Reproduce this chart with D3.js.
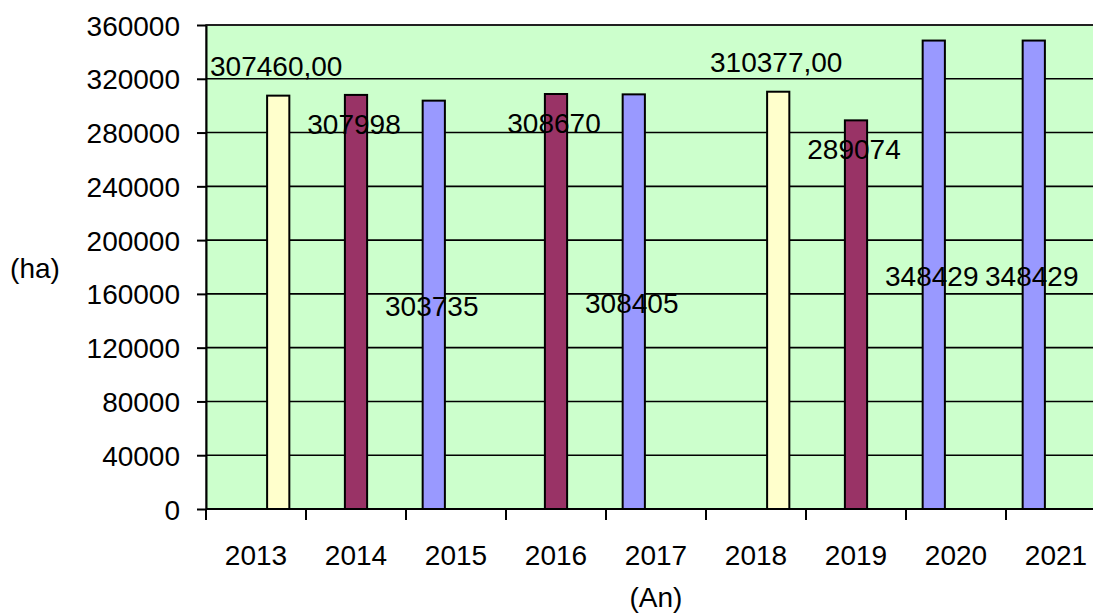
<!DOCTYPE html>
<html>
<head>
<meta charset="utf-8">
<script src="https://cdn.jsdelivr.net/npm/d3@7"></script>
<style>
  html, body { margin: 0; padding: 0; background: #ffffff; }
  svg { display: block; font-family: "Liberation Sans", Arial, sans-serif; }
</style>
</head>
<body>
<div id="chart"></div>
<script>
// categories
const years = ["2013", "2014", "2015", "2016", "2017", "2018", "2019", "2020", "2021"];

// series values (null = no bar in that year)
const blueValues   = [null, null, 303735, null, 308405, null, null, 348429, 348429];
const maroonValues = [null, 307998, null, 308670, null, null, 289074, null, null];
const yellowValues = [307460, null, null, null, null, 310377, null, null, null];

const yTicks = [0, 40000, 80000, 120000, 160000, 200000, 240000, 280000, 320000, 360000];

const width = 1093, height = 614;
const margin = {top: 25, left: 206, bottom: 105};
const plotW = 900;   // plot runs past the right edge of the picture
const plotH = height - margin.top - margin.bottom;

// series: colour + where Excel put the label
const series = [
  {key: "blue",   values: blueValues,   color: "#9999FF", label: "center", fmt: d => String(d)},
  {key: "maroon", values: maroonValues, color: "#993366", label: "insideEnd", fmt: d => String(d)},
  {key: "yellow", values: yellowValues, color: "#FFFFCC", label: "outsideEnd", fmt: d => d + ",00"}
];

const svg = d3.select("#chart").append("svg")
  .attr("width", width)
  .attr("height", height)
  .attr("viewBox", [0, 0, width, height]);

const x = d3.scaleBand()
  .domain(years)
  .range([margin.left, margin.left + plotW]);

// gap width 150% -> outer padding 0.75 of a bar on each side
const xs = d3.scaleBand()
  .domain(series.map(s => s.key))
  .range([0, x.bandwidth()])
  .paddingInner(0)
  .paddingOuter(0.75);

const y = d3.scaleLinear()
  .domain([0, 360000])
  .range([margin.top + plotH, margin.top]);

// plot background
svg.append("rect")
  .attr("x", margin.left)
  .attr("y", margin.top)
  .attr("width", plotW)
  .attr("height", plotH)
  .attr("fill", "#CCFFCC")
  .attr("stroke", "#808080")
  .attr("stroke-width", 2);

// gridlines
svg.append("g")
  .selectAll("line")
  .data(yTicks.filter(d => d > 0))
  .join("line")
    .attr("x1", margin.left)
    .attr("x2", margin.left + plotW)
    .attr("y1", d => y(d))
    .attr("y2", d => y(d))
    .attr("stroke", "#000")
    .attr("stroke-width", 1.6);

// bars
const barData = [];
series.forEach(s => {
  s.values.forEach((v, i) => {
    if (v != null) barData.push({year: years[i], value: v, s: s});
  });
});

svg.append("g")
  .selectAll("rect")
  .data(barData)
  .join("rect")
    .attr("x", d => x(d.year) + xs(d.s.key))
    .attr("y", d => y(d.value))
    .attr("width", xs.bandwidth())
    .attr("height", d => y(0) - y(d.value))
    .attr("fill", d => d.s.color)
    .attr("stroke", "#000")
    .attr("stroke-width", 2);

// y axis
const yAxis = svg.append("g")
  .attr("transform", `translate(${margin.left},0)`)
  .call(d3.axisLeft(y).tickValues(yTicks).tickFormat(d3.format("d"))
    .tickSize(9).tickSizeOuter(0).tickPadding(17));
yAxis.select(".domain").attr("stroke", "#000").attr("stroke-width", 2);
yAxis.selectAll(".tick line").attr("stroke", "#000").attr("stroke-width", 2);
yAxis.selectAll("text")
  .attr("fill", "#000")
  .style("font-size", "28px")
  .style("font-family", "Liberation Sans, Arial, sans-serif")
  .attr("dy", "0.36em");

// x axis
const xg = svg.append("g");
xg.append("line")
  .attr("x1", margin.left)
  .attr("x2", margin.left + plotW)
  .attr("y1", y(0))
  .attr("y2", y(0))
  .attr("stroke", "#000")
  .attr("stroke-width", 2);
xg.selectAll(".xtick")
  .data(years.concat(["end"]))
  .join("line")
    .attr("class", "xtick")
    .attr("x1", (d, i) => margin.left + i * x.step())
    .attr("x2", (d, i) => margin.left + i * x.step())
    .attr("y1", y(0))
    .attr("y2", y(0) + 11)
    .attr("stroke", "#000")
    .attr("stroke-width", 2);
xg.selectAll(".xlabel")
  .data(years)
  .join("text")
    .attr("class", "xlabel")
    .attr("x", d => x(d) + x.bandwidth() / 2)
    .attr("y", y(0) + 56)
    .attr("text-anchor", "middle")
    .style("font-size", "28px")
    .text(d => d);

// data labels
svg.append("g")
  .selectAll("text")
  .data(barData)
  .join("text")
    .attr("x", d => x(d.year) + xs(d.s.key) + xs.bandwidth() / 2 - 2)
    .attr("y", d => {
      if (d.s.label === "outsideEnd") return y(d.value) - 20;
      if (d.s.label === "insideEnd") return y(d.value) + 39;
      return (y(d.value) + y(0)) / 2 + 11;
    })
    .attr("text-anchor", "middle")
    .style("font-size", "28px")
    .text(d => d.s.fmt(d.value));

// axis titles
svg.append("text")
  .attr("x", 35)
  .attr("y", 278)
  .attr("text-anchor", "middle")
  .style("font-size", "28px")
  .text("(ha)");

svg.append("text")
  .attr("x", margin.left + plotW / 2)
  .attr("y", 607)
  .attr("text-anchor", "middle")
  .style("font-size", "28px")
  .text("(An)");
</script>
</body>
</html>
